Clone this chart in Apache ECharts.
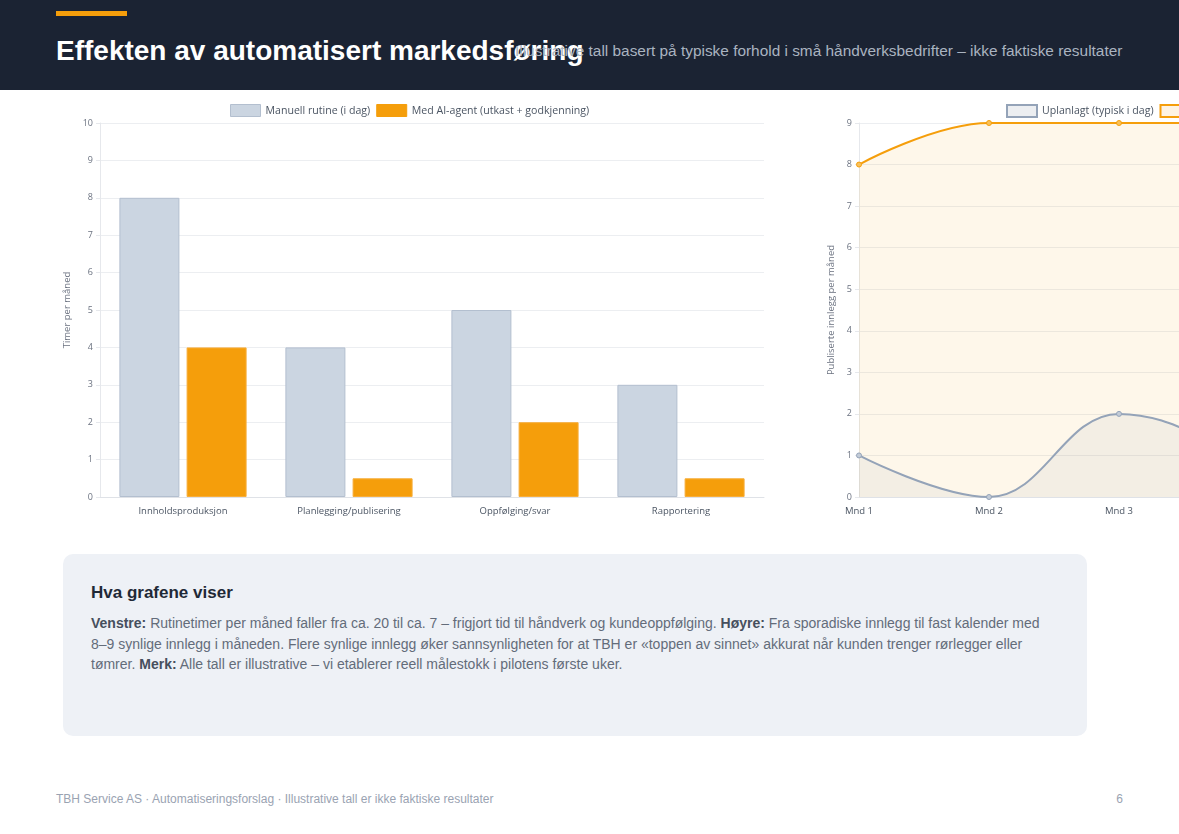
<!DOCTYPE html>
<html>
<head>
<meta charset="utf-8">
<title>Effekten av automatisert markedsføring</title>
<script src="https://cdn.jsdelivr.net/npm/echarts@6/dist/echarts.min.js"></script>
<style>
	html, body { margin: 0; padding: 0; width: 1179px; height: 834px; overflow: hidden; background: #fff; font-family: "Liberation Sans", Arial, sans-serif; }
	#header { position: absolute; left: 0; top: 0; width: 1179px; height: 90px; background: #1b2333; }
	#accent { position: absolute; left: 56px; top: 11px; width: 71px; height: 5px; background: #f59e0b; }
	#title { position: absolute; left: 56px; top: 33px; margin: 0; font-size: 28px; font-weight: bold; color: #fff; white-space: nowrap; line-height: 36px; }
	#subtitle { position: absolute; left: 515px; top: 42px; font-size: 15.4px; color: #aab3c0; white-space: nowrap; line-height: 18px; }
	#chart1 { position: absolute; left: 40px; top: 95px; width: 740px; height: 430px; }
	#chart2 { position: absolute; left: 790px; top: 95px; width: 760px; height: 430px; }
	#note { position: absolute; left: 63px; top: 554px; width: 968px; height: 182px; padding: 0 28px; background: #eef1f6; border-radius: 10px; }
	#note h3 { margin: 28px 0 0 0; font-size: 17px; color: #1f2937; line-height: 22px; }
	#note p { margin: 9px 0 0 0; font-size: 14px; line-height: 20.5px; color: #636c7a; }
	#note b { color: #464f5d; }
	#footer { position: absolute; left: 56px; top: 792px; width: 1067px; font-size: 12px; color: #9aa3b2; }
	#footer span { position: absolute; right: 0; top: 0; }
</style>
</head>
<body>
	<div id="header">
		<div id="accent"></div>
		<h1 id="title">Effekten av automatisert markedsføring</h1>
		<div id="subtitle">Illustrative tall basert på typiske forhold i små håndverksbedrifter – ikke faktiske resultater</div>
	</div>
	<div id="chart1"></div>
	<div id="chart2"></div>
	<div id="note">
		<h3>Hva grafene viser</h3>
		<p><b>Venstre:</b> Rutinetimer per måned faller fra ca. 20 til ca. 7 – frigjort tid til håndverk og kundeoppfølging. <b>Høyre:</b> Fra sporadiske innlegg til fast kalender med 8–9 synlige innlegg i måneden. Flere synlige innlegg øker sannsynligheten for at TBH er «toppen av sinnet» akkurat når kunden trenger rørlegger eller tømrer. <b>Merk:</b> Alle tall er illustrative – vi etablerer reell målestokk i pilotens første uker.</p>
	</div>
	<div id="footer">TBH Service AS · Automatiseringsforslag · Illustrative tall er ikke faktiske resultater<span>6</span></div>
	<script>
		// venstre: timer per måned
		var tasks = ['Innholdsproduksjon', 'Planlegging/publisering', 'Oppfølging/svar', 'Rapportering'];
		var manualHours = [8, 4, 5, 3];
		var agentHours = [4, 0.5, 2, 0.5];

		// høyre: publiserte innlegg
		var months = ['Mnd 1', 'Mnd 2', 'Mnd 3', 'Mnd 4', 'Mnd 5', 'Mnd 6'];
		var unplannedPosts = [1, 0, 2, 1, 0, 1];
		var agentPosts = [8, 9, 9, 9, 9, 9];

		var font = '"Open Sans", "Noto Sans", sans-serif';
		var tickColor = '#6b7280';
		var gridColor = '#eceef1';

		function renderChart1() {
			var chart1 = echarts.init(document.getElementById('chart1'));
			chart1.setOption({
				animation: false,
				textStyle: { fontFamily: font },
				legend: {
					left: 185, top: 4,
					itemWidth: 30, itemHeight: 12, itemGap: 6,
					icon: 'rect',
					textStyle: { fontSize: 10.6, color: '#4b5563', fontFamily: font },
					data: [
						{ name: 'Manuell rutine (i dag)', itemStyle: { color: '#cbd5e1', borderColor: '#b3bfcf', borderWidth: 1 } },
						{ name: 'Med AI-agent (utkast + godkjenning)', itemStyle: { color: '#f59e0b', borderColor: '#f59e0b', borderWidth: 1 } }
					]
				},
				grid: { left: 60, right: 16, top: 28, bottom: 28 },
				xAxis: {
					type: 'category',
					data: tasks,
					axisLine: { lineStyle: { color: '#dfe2e7' } },
					axisTick: { show: false },
					axisLabel: { color: '#4b5563', fontSize: 9.5, margin: 9 }
				},
				yAxis: {
					type: 'value', min: 0, max: 10, interval: 1,
					name: 'Timer per måned', nameLocation: 'middle', nameGap: 22,
					nameTextStyle: { color: tickColor, fontSize: 9.5 },
					axisLine: { show: true, lineStyle: { color: '#e6e8ec' } },
					axisTick: { show: true, length: 4, lineStyle: { color: '#e6e8ec' } },
					axisLabel: { color: tickColor, fontSize: 9, margin: 7 },
					splitLine: { lineStyle: { color: gridColor } }
				},
				series: [{
					name: 'Manuell rutine (i dag)',
					type: 'bar',
					data: manualHours,
					barWidth: 60, barGap: '12%',
					itemStyle: { color: '#cbd5e1', borderColor: '#b3bfcf', borderWidth: 1 }
				}, {
					name: 'Med AI-agent (utkast + godkjenning)',
					type: 'bar',
					data: agentHours,
					barWidth: 60, barGap: '12%',
					itemStyle: { color: '#f59e0b', borderColor: '#f7ad3a', borderWidth: 1 }
				}]
			});
		}

		function renderChart2() {
			var chart2 = echarts.init(document.getElementById('chart2'));
			chart2.setOption({
				animation: false,
				textStyle: { fontFamily: font },
				legend: {
					left: 211, top: 4,
					itemWidth: 30, itemHeight: 12, itemGap: 6,
					icon: 'rect',
					textStyle: { fontSize: 10.6, color: '#4b5563', fontFamily: font },
					data: [
						{ name: 'Uplanlagt (typisk i dag)', itemStyle: { color: '#eceef1', borderColor: '#94a3b8', borderWidth: 2 } },
						{ name: 'Med AI-agent (fast kalender)', itemStyle: { color: '#fef3e2', borderColor: '#f59e0b', borderWidth: 2 } }
					]
				},
				grid: { left: 69, width: 650, top: 28, bottom: 28 },
				xAxis: {
					type: 'category',
					data: months,
					boundaryGap: false,
					axisLine: { lineStyle: { color: '#dfe2e7' } },
					axisTick: { show: false },
					axisLabel: { color: '#4b5563', fontSize: 9.5, margin: 9 },
					splitLine: { show: false }
				},
				yAxis: {
					type: 'value', min: 0, max: 9, interval: 1,
					name: 'Publiserte innlegg per måned', nameLocation: 'middle', nameGap: 19,
					nameTextStyle: { color: tickColor, fontSize: 9.5 },
					axisLine: { show: true, lineStyle: { color: '#e6e8ec' } },
					axisTick: { show: true, length: 4, lineStyle: { color: '#e6e8ec' } },
					axisLabel: { color: tickColor, fontSize: 9, margin: 7 },
					splitLine: { lineStyle: { color: gridColor } }
				},
				series: [{
					name: 'Uplanlagt (typisk i dag)',
					type: 'line',
					data: unplannedPosts,
					smooth: 0.4,
					z: 3,
					symbol: 'circle', symbolSize: 5,
					lineStyle: { color: '#94a3b8', width: 2 },
					itemStyle: { color: '#c3ccd8', borderColor: '#94a3b8', borderWidth: 1 },
					areaStyle: { color: 'rgba(148,163,184,0.15)' }
				}, {
					name: 'Med AI-agent (fast kalender)',
					type: 'line',
					data: agentPosts,
					smooth: 0.4,
					z: 2,
					symbol: 'circle', symbolSize: 5,
					lineStyle: { color: '#f59e0b', width: 2 },
					itemStyle: { color: '#f8c15c', borderColor: '#f59e0b', borderWidth: 1 },
					areaStyle: { color: 'rgba(245,158,11,0.12)' }
				}]
			});
		}

		renderChart1();
		renderChart2();
	</script>
</body>
</html>
